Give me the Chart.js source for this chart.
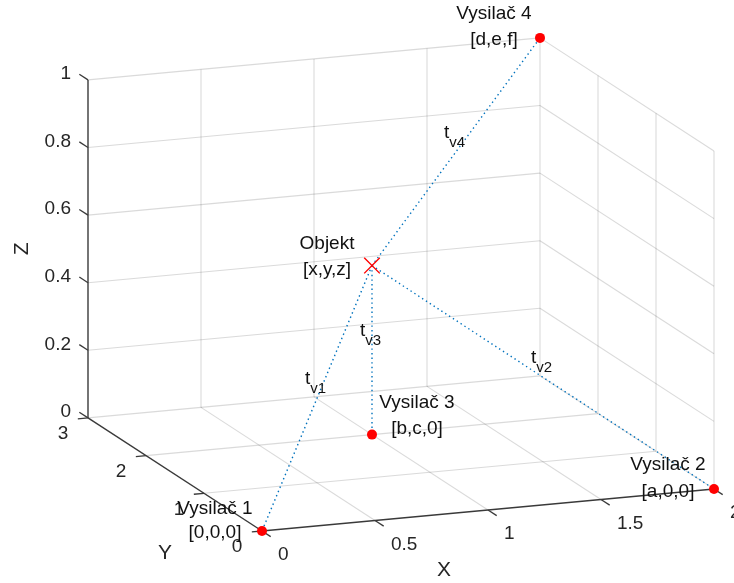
<!DOCTYPE html>
<html>
<head>
<meta charset="utf-8">
<script src="https://cdn.jsdelivr.net/npm/chart.js@4"></script>
<style>
  body { margin: 0; background: #fff; }
  canvas { display: block; }
</style>
</head>
<body>
<canvas id="scene" width="734" height="583"></canvas>
<script>
// axis ticks
const xTicks = [0, 0.5, 1, 1.5, 2];
const yTicks = [0, 1, 2, 3];
const zTicks = [0, 0.2, 0.4, 0.6, 0.8, 1];

// transmitters
const stationNames = ['Vysilač 1', 'Vysilač 2', 'Vysilač 3', 'Vysilač 4'];
const stationCoords = ['[0,0,0]', '[a,0,0]', '[b,c,0]', '[d,e,f]'];
const stationX = [0, 2, 1, 2];
const stationY = [0, 0, 2, 3];
const stationZ = [0, 0, 0, 1];

// object
const objectName = 'Objekt';
const objectCoords = '[x,y,z]';
const objectPos = [1, 2, 0.5];

// delay labels (t with subscript)
const delayNames = ['v1', 'v2', 'v3', 'v4'];

// fixed 3D view -> 2D
function proj(x, y, z) {
    return { x: 262 + 226 * x - 58 * y, y: 531 - 21 * x - 37.7 * y - 338 * z };
}

const GRID = 'rgba(38,38,38,0.17)';
const AXIS = '#3a3a3a';
const BLUE = '#0072BD';

function seg(a, b, color, width, order, dash) {
    return {
        data: [proj(a[0], a[1], a[2]), proj(b[0], b[1], b[2])],
        showLine: true,
        borderColor: color,
        borderWidth: width,
        borderDash: dash || [],
        pointRadius: 0,
        order: order
    };
}

const xMax = xTicks[xTicks.length - 1];
const yMax = yTicks[yTicks.length - 1];
const zMax = zTicks[zTicks.length - 1];

const datasets = [];

// floor grid
xTicks.slice(1).forEach(x => datasets.push(seg([x, 0, 0], [x, yMax, 0], GRID, 1.1, 5)));
yTicks.slice(1).forEach(y => datasets.push(seg([0, y, 0], [xMax, y, 0], GRID, 1.1, 5)));
// back wall (y = max)
xTicks.slice(1).forEach(x => datasets.push(seg([x, yMax, 0], [x, yMax, zMax], GRID, 1.1, 5)));
zTicks.slice(1).forEach(z => datasets.push(seg([0, yMax, z], [xMax, yMax, z], GRID, 1.1, 5)));
// right wall (x = max)
yTicks.slice(0, -1).forEach(y => datasets.push(seg([xMax, y, 0], [xMax, y, zMax], GRID, 1.1, 5)));
zTicks.slice(1).forEach(z => datasets.push(seg([xMax, 0, z], [xMax, yMax, z], GRID, 1.1, 5)));

// axes and ticks
datasets.push(seg([0, 0, 0], [xMax, 0, 0], AXIS, 1.4, 4));
datasets.push(seg([0, 0, 0], [0, yMax, 0], AXIS, 1.4, 4));
datasets.push(seg([0, yMax, 0], [0, yMax, zMax], AXIS, 1.4, 4));
xTicks.forEach(x => datasets.push(seg([x, 0, 0], [x, -0.15, 0], AXIS, 1.3, 4)));
yTicks.forEach(y => datasets.push(seg([0, y, 0], [-0.045, y, 0], AXIS, 1.3, 4)));
zTicks.forEach(z => datasets.push(seg([0, yMax, z], [0, yMax + 0.15, z], AXIS, 1.3, 4)));

// dotted paths object -> stations
stationX.forEach((sx, i) => {
    datasets.push(seg(objectPos, [sx, stationY[i], stationZ[i]], BLUE, 1.4, 2, [1.4, 3.2]));
});

// stations
datasets.push({
    data: stationX.map((sx, i) => proj(sx, stationY[i], stationZ[i])),
    showLine: false,
    pointRadius: 5,
    pointBackgroundColor: '#ff0000',
    pointBorderColor: '#ff0000',
    pointBorderWidth: 0,
    order: 0
});
// object
datasets.push({
    data: [proj(objectPos[0], objectPos[1], objectPos[2])],
    showLine: false,
    pointStyle: 'crossRot',
    pointRadius: 11,
    pointBorderColor: '#ff0000',
    pointBorderWidth: 1.4,
    order: 0
});

const textFont = '19px "Liberation Sans", Arial, sans-serif';
const subFont = '15px "Liberation Sans", Arial, sans-serif';
const axisFont = '21px "Liberation Sans", Arial, sans-serif';

const labelPlugin = {
    id: 'labels3d',
    afterDatasetsDraw(chart) {
        const ctx = chart.ctx;
        const sx = chart.scales.x, sy = chart.scales.y;
        const at = (x, y, z) => {
            const p = proj(x, y, z);
            return { x: sx.getPixelForValue(p.x), y: sy.getPixelForValue(p.y) };
        };
        ctx.save();

        // tick labels
        ctx.fillStyle = '#262626';
        ctx.font = textFont;
        ctx.textBaseline = 'middle';
        ctx.textAlign = 'left';
        xTicks.forEach(v => {
            const p = at(v, 0, 0);
            ctx.fillText(String(v), p.x + 16, p.y + 24);
        });
        ctx.textAlign = 'center';
        yTicks.forEach(v => {
            const p = at(0, v, 0);
            ctx.fillText(String(v), p.x - 25, p.y + 16);
        });
        ctx.textAlign = 'right';
        zTicks.forEach(v => {
            const p = at(0, yMax, v);
            ctx.fillText(String(v), p.x - 17, p.y - 6);
        });

        // axis titles
        ctx.font = axisFont;
        ctx.textAlign = 'center';
        let p = at(1, 0, 0);
        ctx.fillText('X', p.x - 44, p.y + 60);
        p = at(0, 1.5, 0);
        ctx.fillText('Y', p.x - 10, p.y + 79);
        p = at(0, yMax, 0.5);
        ctx.save();
        ctx.translate(p.x - 66, p.y);
        ctx.rotate(-Math.PI / 2);
        ctx.fillText('Z', 0, 0);
        ctx.restore();

        // station labels
        const offs = [[-47, -22, 2], [-46, -24, 3], [45, -32, -6], [-46, -24, 2]];
        ctx.fillStyle = '#111';
        ctx.font = textFont;
        stationX.forEach((x, i) => {
            const q = at(x, stationY[i], stationZ[i]);
            ctx.fillText(stationNames[i], q.x + offs[i][0], q.y + offs[i][1]);
            ctx.fillText(stationCoords[i], q.x + offs[i][0], q.y + offs[i][2]);
        });
        const o = at(objectPos[0], objectPos[1], objectPos[2]);
        ctx.fillText(objectName, o.x - 45, o.y - 22);
        ctx.fillText(objectCoords, o.x - 45, o.y + 4);

        // delay labels at mid-segments
        ctx.textAlign = 'left';
        ctx.textBaseline = 'alphabetic';
        stationX.forEach((x, i) => {
            const q = at(x, stationY[i], stationZ[i]);
            const mx = (q.x + o.x) / 2 - 12;
            const my = (q.y + o.y) / 2 - 14;
            ctx.font = textFont;
            ctx.fillText('t', mx, my);
            const w = ctx.measureText('t').width;
            ctx.font = subFont;
            ctx.fillText(delayNames[i], mx + w, my + 9);
        });

        ctx.restore();
    }
};

new Chart(document.getElementById('scene').getContext('2d'), {
    type: 'scatter',
    data: { datasets: datasets },
    options: {
        responsive: false,
        animation: false,
        layout: { padding: 0, autoPadding: false },
        scales: {
            x: { type: 'linear', min: 0, max: 734, display: false },
            y: { type: 'linear', min: 0, max: 583, reverse: true, display: false }
        },
        plugins: {
            legend: { display: false },
            tooltip: { enabled: false }
        }
    },
    plugins: [labelPlugin]
});
</script>
</body>
</html>
